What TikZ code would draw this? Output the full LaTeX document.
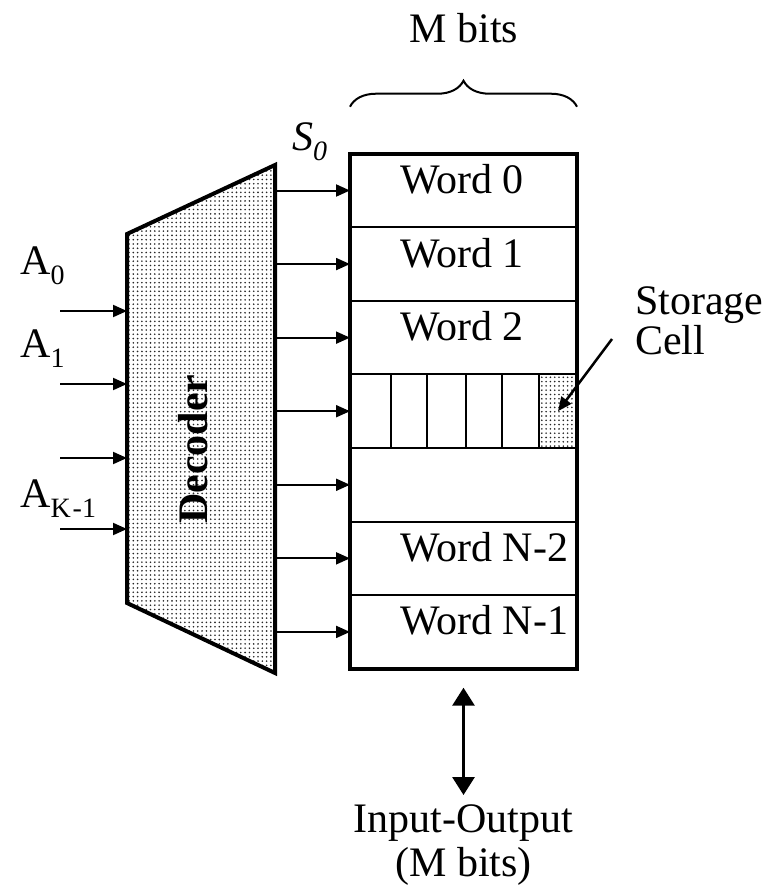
\documentclass[tikz,border=0pt]{standalone}
\usepackage{fontspec}
\setmainfont{Liberation Serif}
\usetikzlibrary{positioning,arrows.meta,calc,patterns.meta,decorations.pathreplacing}
\newcommand{\subs}[1]{\raisebox{-10pt}{\fontsize{28}{30}\selectfont #1}}
\tikzset{
  lbl/.style={
    font=\fontsize{42}{44}\selectfont,
    inner sep=0pt
  },
  wordrow/.style={
    draw,
    line width=2pt,
    minimum width=227pt,
    minimum height=73.57pt,
    inner sep=0pt,
    outer sep=0pt
  },
  storecell/.style={
    draw,
    line width=2pt,
    minimum width=38pt,
    minimum height=73.57pt,
    inner sep=0pt,
    outer sep=0pt,
    pattern={Dots[distance=4.3pt,radius=0.9pt]},
    pattern color=black!85
  },
  decbox/.style={
    line width=4pt,
    line join=miter,
    pattern={Dots[distance=4.3pt,radius=0.9pt]},
    pattern color=black!85
  },
  memframe/.style={line width=4pt},
  rowline/.style={line width=2pt},
  mbrace/.style={decorate,decoration={brace,amplitude=26pt},line width=2pt},
  arrow/.style={-{Triangle[length=14pt,width=12pt]},line width=2pt},
  ioarrow/.style={{Triangle[length=18pt,width=22pt]}-{Triangle[length=18pt,width=22pt]},line width=3pt}
}

\begin{document}
\begin{tikzpicture}[x=1pt,y=-1pt,node distance=0pt]
    \useasboundingbox (0,0) rectangle (776,889);
    % decoder
    \coordinate (dtl) at (127,234);
    \coordinate (dtr) at (275,165);
    \coordinate (dbr) at (275,673);
    \coordinate (dbl) at (127,603);
    \draw[decbox] (dtl) -- (dtr) -- (dbr) -- (dbl) -- cycle;
    \node[lbl,font=\fontsize{42}{44}\selectfont\bfseries,rotate=90] (declbl) at (193,449) {Decoder};
    % memory words
    \node[wordrow] (w0) at (463.5,190.5) {};
    \node[wordrow,below=of w0] (w1) {};
    \node[wordrow,below=of w1] (w2) {};
    \node[wordrow,below=of w2] (w3) {};
    \node[wordrow,below=of w3] (w4) {};
    \node[wordrow,below=of w4] (w5) {};
    \node[wordrow,below=of w5] (w6) {};
    \node[storecell,anchor=east] (cell) at (w3.east) {};
    \draw[rowline] (w3.north west) ++(41,0) -- ++(0,73.57);
    \draw[rowline] (w3.north west) ++(77,0) -- ++(0,73.57);
    \draw[rowline] (w3.north west) ++(116,0) -- ++(0,73.57);
    \draw[rowline] (w3.north west) ++(152,0) -- ++(0,73.57);
    \draw[memframe] (w0.north west) rectangle (w6.south east);
    \node[lbl,anchor=base west] (t0) at ($(w0.west)+(50,3)$) {Word 0};
    \node[lbl,anchor=base west] (t1) at ($(w1.west)+(50,3)$) {Word 1};
    \node[lbl,anchor=base west] (t2) at ($(w2.west)+(50,3)$) {Word 2};
    \node[lbl,anchor=base west] (t5) at ($(w5.west)+(50,3)$) {Word N-2};
    \node[lbl,anchor=base west] (t6) at ($(w6.west)+(50,3)$) {Word N-1};
    % select lines
    \foreach \i in {0,...,6} {
      \coordinate (s\i) at (w\i.west -| dtr);
      \draw[arrow] (s\i) -- (w\i.west);
    }
    \node[lbl,font=\fontsize{42}{44}\selectfont\itshape,anchor=base west] (s0lbl) at (292,150) {S\subs{0}};
    % address inputs
    \coordinate (in0) at (60,311);
    \coordinate (in1) at (60,384);
    \coordinate (in2) at (60,458);
    \coordinate (in3) at (60,529);
    \foreach \i in {0,...,3}
      \draw[arrow] (in\i) -- (in\i -| dtl);
    \node[lbl,anchor=base west] (a0) at (20,274) {A\subs{0}};
    \node[lbl,anchor=base west] (a1) at (20,357) {A\subs{1}};
    \node[lbl,anchor=base west] (ak) at (20,507) {A\subs{K\kern2pt-1}};
    % storage cell
    \node[lbl,align=left,anchor=west,font=\fontsize{42}{40}\selectfont] (celltxt) at (635,320.5) {Storage\\Cell};
    \coordinate (ptr) at (612,339);
    \draw[arrow,line width=2.5pt] (ptr) -- (cell.center);
    % width brace
    \draw[mbrace] ([yshift=47pt]w0.north west) -- ([yshift=47pt]w0.north east);
    \node[lbl,anchor=base] (mbits) at (464,42) {M bits};
    % data port
    \node[lbl,align=center,anchor=north] (io) at (463.5,804) {Input-Output\\(M bits)};
    \draw[ioarrow] ([yshift=-19pt]w6.south) -- ([yshift=9pt]io.north);
  \end{tikzpicture}
\end{document}
